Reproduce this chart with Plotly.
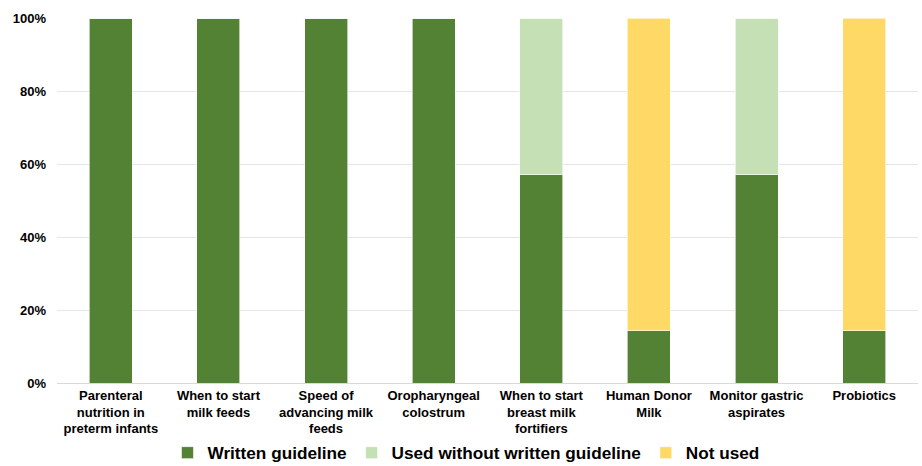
import plotly.graph_objects as go

categories = [
    "Parenteral<br>nutrition in<br>preterm infants",
    "When to start<br>milk feeds",
    "Speed of<br>advancing milk<br>feeds",
    "Oropharyngeal<br>colostrum",
    "When to start<br>breast milk<br>fortifiers",
    "Human Donor<br>Milk",
    "Monitor gastric<br>aspirates",
    "Probiotics",
]
written = [1.0, 1.0, 1.0, 1.0, 0.571, 0.143, 0.571, 0.143]
used_without = [0, 0, 0, 0, 0.429, 0, 0.429, 0]
not_used = [0, 0, 0, 0, 0, 0.857, 0, 0.857]

series = [
    ("Written guideline", written, "#548235"),
    ("Used without written guideline", used_without, "#C5E0B4"),
    ("Not used", not_used, "#FFD966"),
]

fig = go.Figure()
for name, vals, color in series:
    fig.add_trace(go.Bar(
        x=categories, y=vals, name="<b>" + name + "</b>",
        marker=dict(color=color, line=dict(color="rgba(255,255,255,0.6)", width=1)),
    ))

fig.update_layout(
    barmode="stack",
    bargap=0.6,
    width=922, height=466,
    margin=dict(l=57, r=4, t=18, b=83),
    plot_bgcolor="white",
    paper_bgcolor="white",
    font=dict(family="Liberation Sans, Arial, sans-serif", color="#000000"),
    legend=dict(
        orientation="h", x=0.475, xanchor="center", y=0.028, yanchor="middle",
        yref="container",
        font=dict(size=17.2, family="Liberation Sans, Arial, sans-serif"),
        itemwidth=30, traceorder="normal",
    ),
    yaxis=dict(
        range=[0, 1], tickvals=[0, 0.2, 0.4, 0.6, 0.8, 1.0],
        ticktext=["<b>0%</b>", "<b>20%</b>", "<b>40%</b>", "<b>60%</b>", "<b>80%</b>", "<b>100%</b>"],
        showgrid=True, gridcolor="#E6E6E6", gridwidth=1,
        zeroline=False, tickfont=dict(size=13), ticks="", ticklen=0,
        ticklabelstandoff=10, automargin=False,
    ),
    xaxis=dict(
        tickfont=dict(size=13), showline=True, linecolor="#D9D9D9", linewidth=1,
        tickangle=0, automargin=False,
        tickvals=categories, ticktext=["<b>" + c + "</b>" for c in categories],
    ),
)

fig.write_html("out.html")
